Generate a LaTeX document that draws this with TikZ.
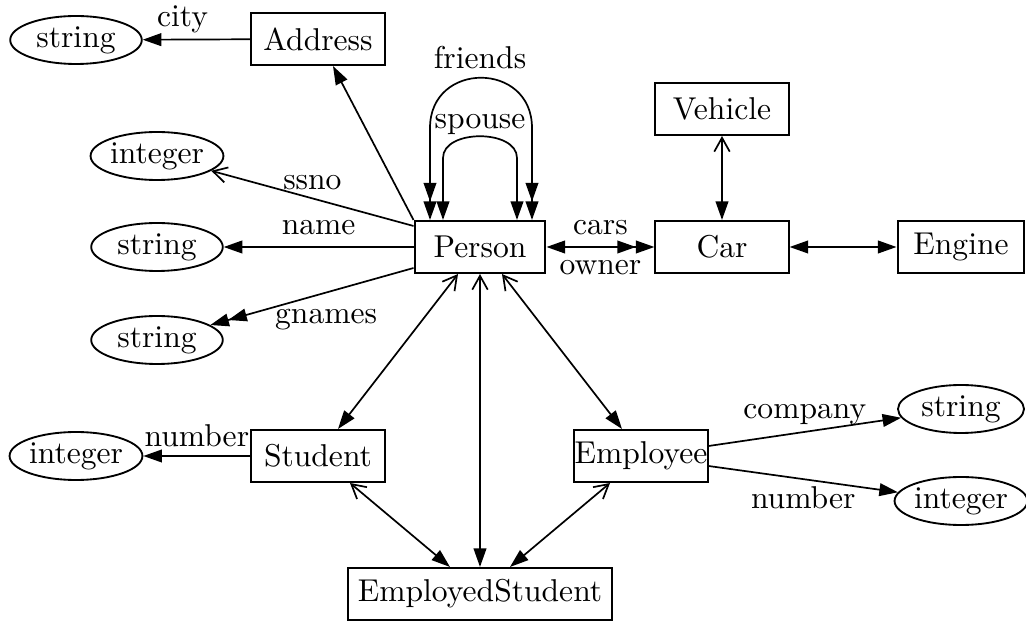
\documentclass[tikz,border=0pt]{standalone}
\usetikzlibrary{arrows.meta,shapes.geometric,calc}
\tikzset{
  every node/.style={font=\fontsize{10.2}{12}\selectfont},
  ent/.style={draw, rectangle, line width=0.65pt, minimum width=43pt, minimum height=16.8pt, inner sep=0pt},
  lit/.style={draw, ellipse, line width=0.6pt, minimum width=42.5pt, minimum height=15.5pt, inner sep=0pt},
  tOne/.tip={Triangle[length=6pt,width=4.1pt]},
  tMany/.tip={Triangle[length=6pt,width=4.1pt]Triangle[length=6pt,width=4.1pt]},
  tIsa/.tip={Straight Barb[length=4.5pt,width=5pt,line width=0.55pt]},
  rel/.style={line width=0.55pt},
  lbl/.style={inner sep=2pt}
}
\begin{document}
\begin{tikzpicture}[x=0.323pt, y=-0.323pt]
\path[use as bounding box] (0,0) rectangle (1026,621);

% classes and literal types
\node[lit] (sCity) at (76,40) {string};
\node[ent] (Address) at (318,39) {Address};
\node[ent] (Vehicle) at (722,109) {Vehicle};
\node[lit] (iSsno) at (157,156) {integer};
\node[ent, minimum width=42.3pt] (Person) at (480,247) {Person};
\node[ent] (Car) at (722,247) {Car};
\node[ent, minimum width=41pt] (Engine) at (961,247) {Engine};
\node[lit] (sName) at (157,247) {string};
\node[lit] (sGnames) at (157,340) {string};
\node[ent] (Student) at (318,456) {Student};
\node[lit] (iNum) at (76,456) {integer};
\node[ent] (Employee) at (641,456) {Employee};
\node[lit, minimum width=40.7pt] (sComp) at (961,409) {string};
\node[lit, minimum width=40.7pt] (iNum2) at (961,501) {integer};
\node[ent, minimum width=85.3pt] (ES) at (480,594) {EmployedStudent};

% attributes and relationships of Address and Person
\draw[rel,-tOne] (Address) -- node[lbl,pos=0.63,above] {city} (sCity);
\draw[rel,-tOne] (Person.north west) -- ($(Address.south)+(15,0)$);
\draw[rel,-tIsa] ($(Person.north west)+(0,6)$) -- node[lbl,midway,above=0.6pt] {ssno} (iSsno);
\draw[rel,-tOne] (Person) -- node[lbl,above=1.5pt] {name} (sName);
\draw[rel,-tMany] ($(Person.south west)+(0,-6)$) -- node[lbl,pos=0.43,below=3pt] {gnames} (sGnames);

% recursive relationships
\draw[rel,tMany-tMany] ($(Person.north)+(-50,0)$) -- ++(0,-92)
  .. controls +(0,-67) and +(0,-67) .. ($(Person.north)+(52,-92)$)
  -- ($(Person.north)+(52,0)$);
\node[lbl] (lFriends) at ($(Person.north)+(0,-162)$) {friends};
\draw[rel,tOne-tOne] ($(Person.north)+(-37,0)$) -- ++(0,-62)
  .. controls +(0,-29) and +(0,-29) .. ($(Person.north)+(37,-62)$)
  -- ($(Person.north)+(37,0)$);
\node[lbl] (lSpouse) at ($(Person.north)+(0,-95)$) {spouse};

% vehicles
\draw[rel,tIsa-tOne] (Vehicle.south) -- (Car.north);
\draw[rel,tOne-tMany] (Person) -- node[lbl,above=1.6pt] {cars} node[lbl,below=2.2pt] {owner} (Car);
\draw[rel,tOne-tOne] (Car) -- (Engine);

% specialisation
\draw[rel,tIsa-tOne] ($(Person.south)+(-22,0)$) -- ($(Student.north)+(20,0)$);
\draw[rel,tIsa-tOne] (Person.south) -- (ES.north);
\draw[rel,tIsa-tOne] ($(Person.south)+(22,0)$) -- ($(Employee.north)+(-19,0)$);
\draw[rel,tIsa-tOne] ($(Student.south)+(32,0)$) -- ($(ES.north)+(-30,0)$);
\draw[rel,tIsa-tOne] ($(Employee.south)+(-31,0)$) -- ($(ES.north)+(30,0)$);

% attributes of Student and Employee
\draw[rel,-tOne] (Student) -- node[lbl,above=0.8pt] {number} (iNum);
\draw[rel,-tOne] ($(Employee.east)+(0,-10)$) -- node[lbl,above] {company} (sComp);
\draw[rel,-tOne] ($(Employee.east)+(0,10)$) -- node[lbl,below] {number} (iNum2);
\end{tikzpicture}
\end{document}
